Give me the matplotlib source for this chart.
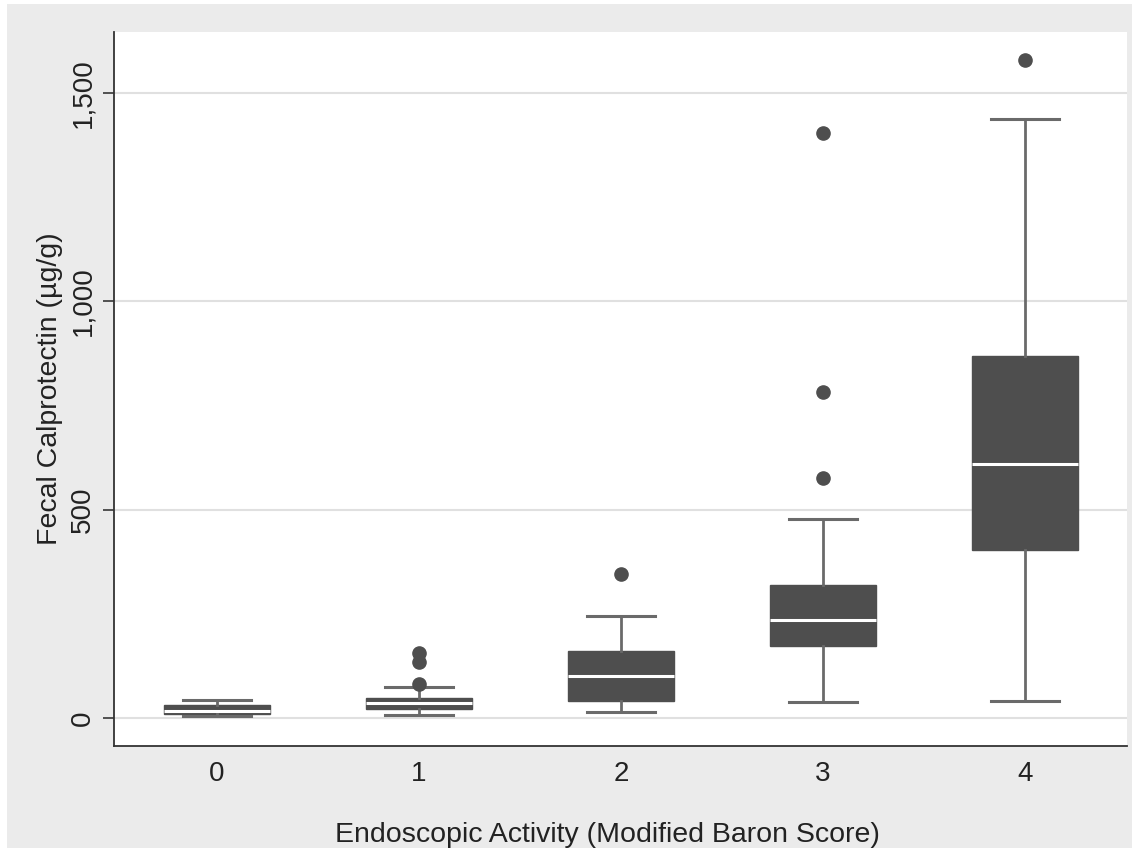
import matplotlib
matplotlib.use("Agg")
import matplotlib.pyplot as plt
from matplotlib.ticker import FuncFormatter
from matplotlib.patches import Rectangle

plt.rcParams['font.family'] = ['Liberation Sans', 'DejaVu Sans']

categories = [0, 1, 2, 3, 4]
whislo = [5, 8, 14, 38, 41]
q1 = [10, 22, 41, 173, 403]
med = [18, 35, 101, 235, 610]
q3 = [31, 48, 161, 319, 869]
whishi = [43, 74, 245, 478, 1437]
fliers = [[], [82, 134, 156], [346], [576, 782, 1404], [1579]]
yticks = [0, 500, 1000, 1500]

stats = []
for i, c in enumerate(categories):
    stats.append(dict(label=str(c), whislo=whislo[i], q1=q1[i], med=med[i],
                      q3=q3[i], whishi=whishi[i], fliers=fliers[i]))

W, H = 1132, 848
fig = plt.figure(figsize=(W / 100, H / 100), dpi=100, facecolor='#ebebeb')
# thin white border strips at top and left of the original image
fig.patches.append(Rectangle((0, 1 - 4 / H), 1, 4 / H, transform=fig.transFigure,
                             facecolor='white', edgecolor='none', zorder=0))
fig.patches.append(Rectangle((0, 0), 7 / W, 1, transform=fig.transFigure,
                             facecolor='white', edgecolor='none', zorder=0))

ax = fig.add_axes([114 / W, 1 - 746 / H, (1127 - 114) / W, (746 - 32) / H])
ax.set_facecolor('white')

box_c = '#4e4e4e'
wh_c = '#6a6a6a'
ax.bxp(stats, positions=categories, widths=0.52, patch_artist=True,
       boxprops=dict(facecolor=box_c, edgecolor=box_c, linewidth=1),
       medianprops=dict(color='white', linewidth=2.2),
       whiskerprops=dict(color=wh_c, linewidth=2),
       capprops=dict(color=wh_c, linewidth=2.2),
       capwidths=0.34,
       flierprops=dict(marker='o', markerfacecolor=box_c, markeredgecolor=box_c,
                       markersize=9.5),
       zorder=3)

ax.set_xlim(-0.51, 4.505)
ax.set_ylim(-67, 1646)
ax.set_yticks(yticks)
ax.yaxis.set_major_formatter(FuncFormatter(lambda v, p: f"{int(v):,}"))
ax.grid(axis='y', color='#e0e0e0', linewidth=1.5, zorder=0)
ax.set_axisbelow(True)

for s in ['top', 'right']:
    ax.spines[s].set_visible(False)
for s in ['left', 'bottom']:
    ax.spines[s].set_color('#333333')
    ax.spines[s].set_linewidth(1.3)

ax.tick_params(axis='y', direction='out', length=8, width=1.3, color='#444444',
               labelsize=20, labelcolor='#222222', pad=5)
ax.tick_params(axis='x', length=0, labelsize=20, labelcolor='#222222', pad=11)
for lab in ax.get_yticklabels():
    lab.set_rotation(90)
    lab.set_va('center')

ax.set_xlabel('Endoscopic Activity (Modified Baron Score)', fontsize=20.5,
              color='#222222')
ax.xaxis.set_label_coords(0.487, -(835 - 746) / (746 - 32))
ax.xaxis.label.set_va('center')
ax.set_ylabel('Fecal Calprotectin (µg/g)', fontsize=20.5, color='#222222',
              labelpad=5)

fig.savefig('out.png', dpi=100, facecolor=fig.get_facecolor())
